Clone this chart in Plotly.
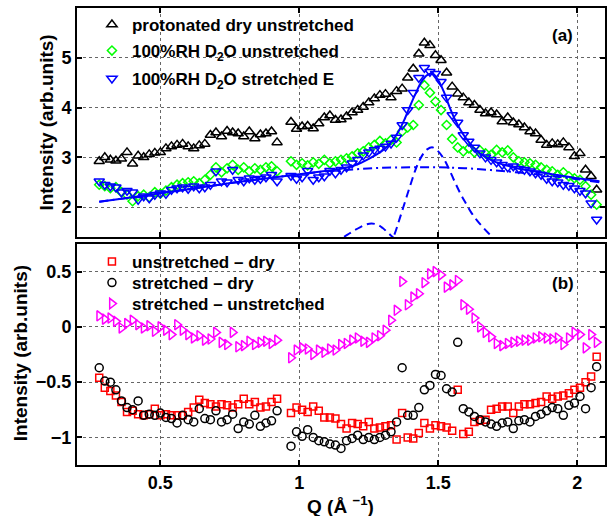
import plotly.graph_objects as go

# ---------------- data ----------------
Q1 = [0.28, 0.30, 0.32, 0.34, 0.36, 0.38, 0.40, 0.42, 0.44, 0.46, 0.48,
      0.50, 0.52, 0.54, 0.56, 0.58, 0.60, 0.62, 0.64, 0.66, 0.68, 0.70,
      0.72, 0.74, 0.76, 0.78, 0.80, 0.82, 0.84, 0.86, 0.88, 0.90, 0.92]
Q2 = [0.97, 0.99, 1.01, 1.03, 1.05, 1.07, 1.09, 1.11, 1.13, 1.15,
      1.17, 1.19, 1.21, 1.23, 1.25, 1.27, 1.29, 1.31, 1.33, 1.35,
      1.37, 1.39, 1.41, 1.43, 1.45, 1.47, 1.49, 1.51, 1.53, 1.55,
      1.57, 1.59, 1.61, 1.63, 1.65, 1.67, 1.69, 1.71, 1.73, 1.75,
      1.77, 1.79, 1.81, 1.83, 1.85, 1.87, 1.89, 1.91, 1.93, 1.95,
      1.97, 1.99, 2.01, 2.03, 2.05, 2.07]
Q = Q1 + Q2

dry_unstretched = [
    2.92, 3.00, 2.95, 2.93, 2.97, 3.10, 2.87, 3.03, 3.00, 3.06,
    3.09, 3.10, 3.18, 3.22, 3.25, 3.27, 3.22, 3.18, 3.24, 3.27,
    3.45, 3.50, 3.42, 3.53, 3.50, 3.48, 3.42, 3.52, 3.38, 3.46,
    3.48, 3.52, 3.30,
    3.71, 3.57, 3.62, 3.63, 3.58, 3.68, 3.80, 3.84, 3.75, 3.76,
    3.82, 3.90, 3.95, 4.01, 4.10, 4.18, 4.25, 4.27, 4.20, 4.33,
    4.38, 4.60, 4.78, 5.08, 5.30, 5.25, 5.05, 4.95, 4.70, 4.42,
    4.28, 4.20, 4.10, 4.05, 3.95, 3.88, 3.90, 3.86, 3.72, 3.80,
    3.70, 3.66, 3.60, 3.52, 3.48, 3.35, 3.25, 3.28, 3.26, 3.30,
    3.20, 3.02, 3.08, 2.75, 2.62, 2.35]
d2o_unstretched = [
    2.45, 2.42, 2.38, 2.40, 2.30, 2.25, 2.12, 2.22, 2.25, 2.20,
    2.30, 2.27, 2.33, 2.40, 2.45, 2.48, 2.50, 2.52, 2.48, 2.55,
    2.65, 2.80, 2.70, 2.78, 2.85, 2.75, 2.80, 2.72, 2.78, 2.75,
    2.80, 2.82, 2.72,
    2.92, 2.85, 2.88, 2.84, 2.90, 2.87, 2.95, 2.88, 2.92, 2.95,
    2.98, 3.02, 3.08, 3.12, 3.20, 3.25, 3.33, 3.28, 3.35, 3.30,
    3.52, 3.60, 3.65, 4.05, 4.45, 4.30, 4.12, 3.95, 3.65, 3.37,
    3.20, 3.12, 3.18, 3.10, 3.14, 3.08, 3.05, 3.15, 3.10, 3.14,
    3.00, 2.92, 2.90, 2.88, 2.85, 2.80, 2.75, 2.72, 2.65, 2.70,
    2.62, 2.58, 2.55, 2.42, 2.25, 2.05]
d2o_stretched = [
    2.52, 2.45, 2.42, 2.40, 2.30, 2.33, 2.30, 2.15, 2.22, 2.18,
    2.25, 2.28, 2.27, 2.35, 2.38, 2.40, 2.37, 2.42, 2.38, 2.40,
    2.45, 2.72, 2.52, 2.50, 2.75, 2.55, 2.52, 2.58, 2.55, 2.57,
    2.60, 2.65, 2.52,
    2.63, 2.57, 2.60, 2.73, 2.55, 2.60, 2.62, 2.73, 2.68, 2.75,
    2.80, 2.88, 2.95, 3.04, 3.10, 3.15, 3.18, 3.22, 3.28, 3.40,
    3.65, 3.95, 4.30, 4.60, 4.80, 4.72, 4.68, 4.52, 4.20, 3.85,
    3.70, 3.45, 3.32, 3.20, 3.08, 3.00, 2.95, 2.90, 2.85, 2.80,
    2.82, 2.77, 2.75, 2.72, 2.68, 2.65, 2.57, 2.52, 2.50, 2.45,
    2.43, 2.38, 2.33, 2.28, 2.08, 1.75]

# fit curves (panel a)
QF = [0.28, 0.40, 0.50, 0.60, 0.70, 0.80, 0.90, 1.00, 1.10, 1.15,
      1.20, 1.25, 1.30, 1.33, 1.36, 1.38, 1.40, 1.42, 1.44, 1.46,
      1.48, 1.50, 1.52, 1.54, 1.56, 1.58, 1.60, 1.62, 1.65, 1.70,
      1.75, 1.80, 1.90, 2.00, 2.08]
fit_total = [2.11, 2.20, 2.28, 2.36, 2.44, 2.52, 2.59, 2.66, 2.73, 2.77,
             2.84, 2.97, 3.14, 3.30, 3.55, 3.78, 4.05, 4.30, 4.52, 4.65,
             4.68, 4.55, 4.32, 4.02, 3.76, 3.55, 3.38, 3.24, 3.08, 2.92,
             2.83, 2.76, 2.67, 2.58, 2.52]
QB = [0.28, 0.40, 0.50, 0.60, 0.70, 0.80, 0.90, 1.00, 1.10, 1.20,
      1.30, 1.40, 1.50, 1.60, 1.70, 1.80, 1.90, 2.00, 2.08]
fit_background = [2.11, 2.20, 2.28, 2.36, 2.44, 2.52, 2.59, 2.66, 2.72, 2.76,
                  2.79, 2.80, 2.80, 2.78, 2.74, 2.69, 2.63, 2.56, 2.50]
QP1 = [1.32, 1.34, 1.36, 1.38, 1.40, 1.42, 1.44, 1.46, 1.48, 1.50, 1.52,
       1.54, 1.56, 1.58, 1.60, 1.62, 1.64, 1.66, 1.68, 1.70, 1.72]
fit_peak1 = [1.22, 1.42, 1.75, 2.10, 2.45, 2.78, 3.02, 3.16, 3.20, 3.12, 2.97,
             2.75, 2.50, 2.27, 2.07, 1.88, 1.73, 1.60, 1.48, 1.38, 1.28]
QP2 = [1.12, 1.14, 1.16, 1.18, 1.20, 1.22, 1.24, 1.26, 1.28, 1.30, 1.32, 1.34, 1.36]
fit_peak2 = [1.28, 1.34, 1.40, 1.47, 1.54, 1.60, 1.65, 1.67, 1.65, 1.58, 1.48, 1.38, 1.30]

# differences (panel b)
unstretched_minus_dry = [
    -0.46, -0.55, -0.58, -0.62, -0.68, -0.77, -0.76, -0.79, -0.80, -0.79,
    -0.74, -0.80, -0.79, -0.80, -0.80, -0.80, -0.77, -0.73, -0.66, -0.69,
    -0.70, -0.72, -0.70, -0.71, -0.73, -0.70, -0.65, -0.70, -0.68, -0.73,
    -0.72, -0.68, -0.65,
    -0.78, -0.73, -0.75, -0.77, -0.72, -0.76, -0.82, -0.82, -0.83, -0.88,
    -0.92, -0.87, -0.88, -0.90, -0.86, -0.92, -0.91, -0.90, -0.89, -1.02,
    -0.78, -1.00, -1.01, -0.96, -0.87, -0.92, -0.89, -0.90, -0.91, -0.94,
    -0.57, -0.97, -0.95, -0.86, -0.85, -0.84, -0.75, -0.74, -0.72, -0.72,
    -0.78, -0.72, -0.70, -0.70, -0.69, -0.68, -0.63, -0.65, -0.63, -0.62,
    -0.60, -0.57, -0.55, -0.50, -0.45, -0.27]
stretched_minus_dry = [
    -0.37, -0.49, -0.50, -0.57, -0.67, -0.73, -0.75, -0.67, -0.80, -0.79,
    -0.80, -0.78, -0.82, -0.83, -0.87, -0.80, -0.84, -0.86, -0.74, -0.83,
    -0.84, -0.76, -0.86, -0.84, -0.79, -0.92, -0.86, -0.88, -0.80, -0.90,
    -0.87, -0.85, -0.76,
    -1.08, -0.95, -0.99, -0.93, -1.00, -1.03, -1.04, -1.06, -1.07, -1.10,
    -1.03, -1.01, -0.98, -1.02, -1.00, -1.02, -1.00, -0.98, -0.95, -0.86,
    -0.37, -0.80, -0.80, -0.73, -0.57, -0.53, -0.43, -0.44, -0.56, -0.59,
    -0.14, -0.74, -0.77, -0.81, -0.84, -0.86, -0.88, -0.90, -0.87, -0.86,
    -0.92, -0.85, -0.84, -0.86, -0.81, -0.79, -0.76, -0.73, -0.74, -0.80,
    -0.71, -0.69, -0.63, -0.74, -0.55, -0.36]
stretched_minus_unstretched = [
    0.10, 0.07, 0.08, 0.05, -0.01, 0.03, 0.06, 0.02, -0.01, 0.01,
    -0.04, 0.00, -0.03, -0.07, 0.02, -0.03, -0.07, -0.10, -0.08, -0.12,
    -0.11, -0.05, -0.14, -0.16, -0.05, -0.18, -0.17, -0.13, -0.16, -0.14,
    -0.13, -0.15, -0.12,
    -0.28, -0.21, -0.19, -0.20, -0.25, -0.21, -0.23, -0.20, -0.21, -0.16,
    -0.15, -0.12, -0.10, -0.13, -0.14, -0.10, -0.08, -0.03, 0.06, 0.15,
    0.41, 0.20, 0.27, 0.30, 0.40, 0.48, 0.50, 0.47, 0.36, 0.38,
    0.42, 0.20, 0.16, 0.08, 0.00, -0.05, -0.09, -0.15, -0.17, -0.15,
    -0.14, -0.13, -0.12, -0.12, -0.10, -0.09, -0.10, -0.11, -0.10, -0.16,
    -0.10, -0.05, -0.07, -0.19, -0.07, -0.14]

x_ticks = [0.5, 1, 1.5, 2]
x_ticklabels = ["0.5", "1", "1.5", "2"]
ya_ticks = [2, 3, 4, 5]
yb_ticks = [-1, -0.5, 0, 0.5]
yb_ticklabels = ["\u22121", "\u22120.5", "0", "0.5"]

for s in (dry_unstretched, d2o_unstretched, d2o_stretched, unstretched_minus_dry,
          stretched_minus_dry, stretched_minus_unstretched):
    assert len(s) == len(Q)

# ---------------- figure ----------------
FONT = "Liberation Sans, Arial, Helvetica, sans-serif"
W, H = 608, 516
ML, MR, MT, MB = 77, 1, 8, 51
PW, PH = W - ML - MR, H - MT - MB

def px_x(p):
    return (p - ML) / PW

def px_y(p):
    return (H - MB - p) / PH

fig = go.Figure()

def mk(x, y, name, symbol, color, size, xa, ya, legend):
    return go.Scatter(x=x, y=y, mode="markers", name=name, xaxis=xa, yaxis=ya,
                      legend=legend,
                      marker=dict(symbol=symbol, size=size, color=color,
                                  line=dict(color=color, width=1.5)))

fig.add_trace(mk(Q, dry_unstretched, "protonated dry unstretched", "triangle-up-open", "black", 9, "x", "y", "legend"))
fig.add_trace(mk(Q, d2o_unstretched, "100%RH D<sub>2</sub>O unstretched", "diamond-open", "#00ff00", 7, "x", "y", "legend2"))
fig.add_trace(mk(Q, d2o_stretched, "100%RH D<sub>2</sub>O stretched E", "triangle-down-open", "#0000ff", 9, "x", "y", "legend3"))

blue = "#0000ff"
fig.add_trace(go.Scatter(x=QB, y=fit_background, mode="lines", xaxis="x", yaxis="y", showlegend=False,
                         line=dict(color=blue, width=2, dash="9px,4px,2px,4px", shape="spline")))
fig.add_trace(go.Scatter(x=QP1, y=fit_peak1, mode="lines", xaxis="x", yaxis="y", showlegend=False,
                         line=dict(color=blue, width=2, dash="8px,5px", shape="spline")))
fig.add_trace(go.Scatter(x=QP2, y=fit_peak2, mode="lines", xaxis="x", yaxis="y", showlegend=False,
                         line=dict(color=blue, width=2, dash="8px,5px", shape="spline")))
fig.add_trace(go.Scatter(x=QF, y=fit_total, mode="lines", xaxis="x", yaxis="y", showlegend=False,
                         line=dict(color=blue, width=2, shape="spline")))

fig.add_trace(mk(Q, unstretched_minus_dry, "unstretched \u2013 dry", "square-open", "#ff0000", 7, "x2", "y2", "legend4"))
fig.add_trace(mk(Q, stretched_minus_dry, "stretched \u2013 dry", "circle-open", "black", 8, "x2", "y2", "legend5"))
fig.add_trace(mk(Q, stretched_minus_unstretched, "stretched \u2013 unstretched", "triangle-right-open", "#ff00ff", 9, "x2", "y2", "legend6"))

axis_common = dict(showline=True, linewidth=2, linecolor="black", mirror="ticks",
                   ticks="inside", ticklen=5, tickwidth=1.5, tickcolor="black",
                   showgrid=True, gridcolor="#666666", griddash="dot", gridwidth=1,
                   zeroline=False,
                   tickfont=dict(family=FONT, size=18, color="black", weight="bold"))

top_lo = px_y(237)
bot_hi = px_y(244)

leg_font = dict(family=FONT, size=17, color="black", weight="bold")

def leg(ypx):
    return dict(x=px_x(92), y=px_y(ypx), xanchor="left", yanchor="middle",
                bgcolor="rgba(0,0,0,0)", borderwidth=0, font=leg_font)

fig.update_layout(
    width=W, height=H,
    margin=dict(l=ML, r=MR, t=MT, b=MB),
    paper_bgcolor="white", plot_bgcolor="white",
    xaxis=dict(domain=[0, 1], anchor="y", range=[0.2, 2.1], tickvals=x_ticks,
               showticklabels=False, **axis_common),
    yaxis=dict(domain=[top_lo, 1], anchor="x", range=[1.4, 6.0], tickvals=ya_ticks,
               ticktext=[str(v) for v in ya_ticks], **axis_common),
    xaxis2=dict(domain=[0, 1], anchor="y2", range=[0.2, 2.1], tickvals=x_ticks,
                ticktext=x_ticklabels, **axis_common),
    yaxis2=dict(domain=[0, bot_hi], anchor="x2", range=[-1.25, 0.75], tickvals=yb_ticks,
                ticktext=yb_ticklabels, **axis_common),
    legend=leg(25), legend2=leg(51), legend3=leg(79),
    legend4=leg(262), legend5=leg(283), legend6=leg(304),
    showlegend=True,
)

ann_font = dict(family=FONT, size=19, color="black", weight="bold")
fig.add_annotation(text="Intensity (arb.units)", xref="paper", yref="paper",
                   x=px_x(46), y=px_y(122.5), textangle=-90,
                   showarrow=False, font=ann_font, xanchor="center", yanchor="middle")
fig.add_annotation(text="Intensity (arb.units)", xref="paper", yref="paper",
                   x=px_x(20), y=px_y(353), textangle=-90,
                   showarrow=False, font=ann_font, xanchor="center", yanchor="middle")
fig.add_annotation(text="Q (\u00c5 <sup>\u22121</sup>)", xref="paper", yref="paper",
                   x=px_x(341), y=px_y(505), showarrow=False, font=ann_font,
                   xanchor="center", yanchor="middle")
fig.add_annotation(text="(a)", xref="paper", yref="paper", x=px_x(564), y=px_y(36),
                   showarrow=False, font=dict(family=FONT, size=17, color="black", weight="bold"),
                   xanchor="center", yanchor="middle")
fig.add_annotation(text="(b)", xref="paper", yref="paper", x=px_x(565), y=px_y(283),
                   showarrow=False, font=dict(family=FONT, size=17, color="black", weight="bold"),
                   xanchor="center", yanchor="middle")

fig.write_html(
    "out.html",
    config={"displayModeBar": False},
    post_script="document.documentElement.style.margin='0';document.body.style.margin='0';"
                "document.body.style.padding='0';document.body.style.overflow='hidden';",
)
